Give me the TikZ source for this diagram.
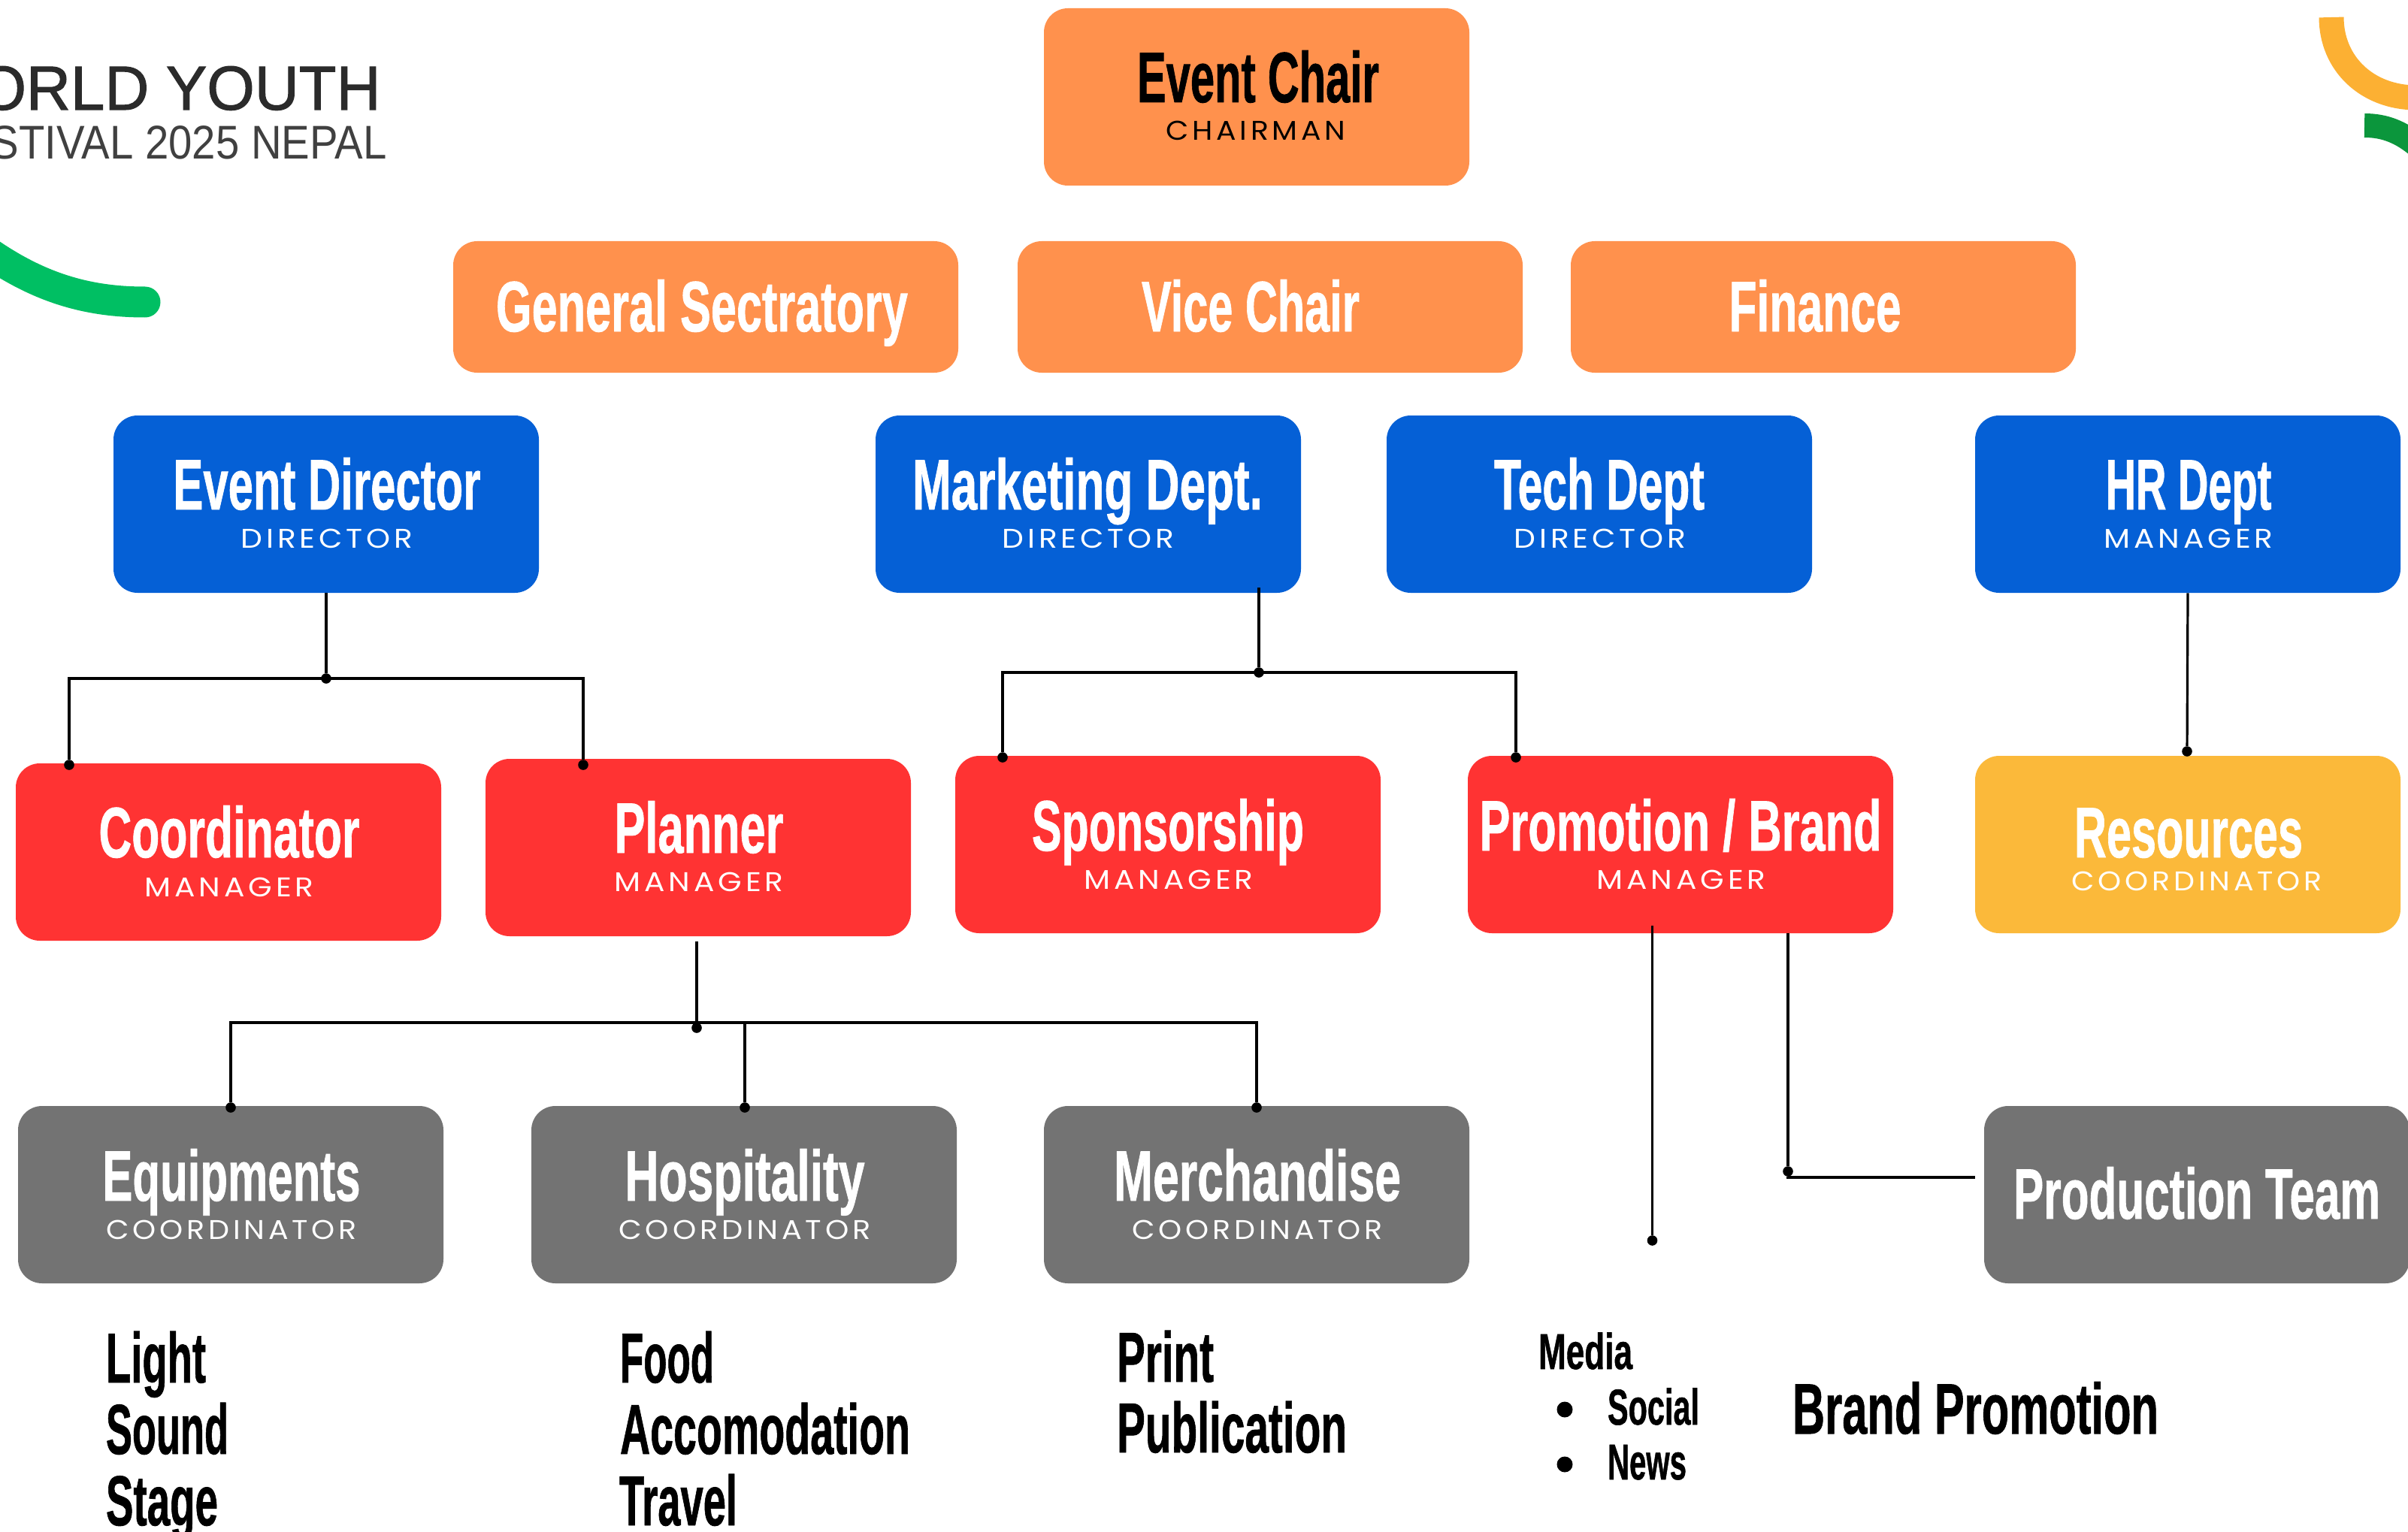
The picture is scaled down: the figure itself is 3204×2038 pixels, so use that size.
\documentclass[tikz,border=0pt]{standalone}
\usepackage{fontspec}
\usepackage{graphicx}
\setmainfont{Liberation Sans}
\newfontfamily\titlef[UprightFont=* Bold,FakeBold=1]{Liberation Sans}
\newfontfamily\logof[FakeBold=1.3]{Liberation Sans}
\newfontfamily\subf[LetterSpace=12]{Poppins}
\definecolor{cOrange}{HTML}{FF914D}
\definecolor{cBlue}{HTML}{0560D6}
\definecolor{cRed}{HTML}{FF3333}
\definecolor{cGrey}{HTML}{737373}
\definecolor{cYellow}{HTML}{FBB93A}
\definecolor{cGreenA}{HTML}{00BF63}
\definecolor{cGreenB}{HTML}{0B963C}
\definecolor{cArc}{HTML}{FCB033}
\definecolor{cLogo}{HTML}{2B2B2B}
\tikzset{
  orgbox/.style={rectangle,rounded corners=16pt,inner sep=0pt,minimum width=283pt,minimum height=118pt},
  widebox/.style={orgbox,minimum width=336pt,minimum height=87.5pt},
  txt/.style={inner sep=0pt,outer sep=0pt,anchor=base},
  txtl/.style={inner sep=0pt,outer sep=0pt,anchor=base west},
  dotn/.style={circle,fill=black,inner sep=0pt,minimum size=6.8pt},
  conn/.style={draw=black,line width=1.6pt},
}
\newcommand{\fitw}[2]{\resizebox{\dimexpr #1pt/2\relax}{\height}{#2}}
\newcommand{\ttl}[1]{\titlef\fontsize{47.5}{52}\selectfont #1}
\newcommand{\lst}[1]{\titlef\fontsize{47}{52}\selectfont #1}
\newcommand{\sml}[1]{\titlef\fontsize{33.5}{38}\selectfont #1}
\newcommand{\sbt}[1]{\subf\fontsize{18}{20}\selectfont #1}
\begin{document}
\begin{tikzpicture}[x=0.5pt,y=-0.5pt]
\useasboundingbox (0,0) rectangle (3204,2038);
\clip (0,0) rectangle (3204,2038);
\fill[white] (0,0) rectangle (3204,2038);
% decorative arcs
\draw[cGreenA,line width=20.5pt,line cap=round] (-40,318) .. controls (40,380) and (110,402) .. (193,402);
\draw[cArc,line width=16.5pt] (3102,23) .. controls (3102,85) and (3150,130) .. (3215,130);
\draw[cGreenB,line width=16pt] (3146,167) .. controls (3172,167) and (3195,175) .. (3220,197);
% logo
\node[inner sep=0pt,anchor=base east,text=cLogo] (logoa) at (507,146) {\logof\fontsize{41.5}{46}\selectfont\fitw{535}{ORLD YOUTH}};
\node[inner sep=0pt,anchor=base east,text=cLogo!90] (logob) at (515,212) {\fontsize{31.5}{36}\selectfont\fitw{527}{STIVAL 2025 NEPAL}};
% boxes
\node[orgbox,fill=cOrange] (chair) at (1672,129) {};
\node[widebox,fill=cOrange] (gensec) at (939,408.5) {};
\node[widebox,fill=cOrange] (vice) at (1690,408.5) {};
\node[widebox,fill=cOrange] (fin) at (2426,408.5) {};
\node[orgbox,fill=cBlue] (ed) at (434,671) {};
\node[orgbox,fill=cBlue] (mkt) at (1448,671) {};
\node[orgbox,fill=cBlue] (tech) at (2128,671) {};
\node[orgbox,fill=cBlue] (hr) at (2911,671) {};
\node[orgbox,fill=cRed] (coord) at (304,1134) {};
\node[orgbox,fill=cRed] (plan) at (929,1128) {};
\node[orgbox,fill=cRed] (spon) at (1554,1124) {};
\node[orgbox,fill=cRed] (promo) at (2236,1124) {};
\node[orgbox,fill=cYellow] (res) at (2911,1124) {};
\node[orgbox,fill=cGrey] (equip) at (307,1590) {};
\node[orgbox,fill=cGrey] (hosp) at (990,1590) {};
\node[orgbox,fill=cGrey] (merch) at (1672,1590) {};
\node[orgbox,fill=cGrey] (prod) at (2923,1590) {};
% box titles
\node[txt,text=black] (t1) at (1674,136) {\ttl{\fitw{322}{Event Chair}}};
\node[txt,text=black] (s1) at (1671,187) {\sbt{\fitw{239}{CHAIRMAN}}};
\node[txt,text=white] (t2) at (934,441) {\ttl{\fitw{548}{General Sectratory}}};
\node[txt,text=white] (t3) at (1664,441) {\ttl{\fitw{290}{Vice Chair}}};
\node[txt,text=white] (t4) at (2415,441) {\ttl{\fitw{229}{Finance}}};
\node[txt,text=white] (t5) at (435,678) {\ttl{\fitw{409}{Event Director}}};
\node[txt,text=white] (s5) at (435,729) {\sbt{\fitw{229}{DIRECTOR}}};
\node[txt,text=white] (t6) at (1447,678) {\ttl{\fitw{466}{Marketing Dept.}}};
\node[txt,text=white] (s6) at (1448,729) {\sbt{\fitw{229}{DIRECTOR}}};
\node[txt,text=white] (t7) at (2128,678) {\ttl{\fitw{280}{Tech Dept}}};
\node[txt,text=white] (s7) at (2129,729) {\sbt{\fitw{229}{DIRECTOR}}};
\node[txt,text=white] (t8) at (2912,678) {\ttl{\fitw{221}{HR Dept}}};
\node[txt,text=white] (s8) at (2912,729) {\sbt{\fitw{225}{MANAGER}}};
\node[txt,text=white] (t9) at (305,1141) {\ttl{\fitw{347}{Coordinator}}};
\node[txt,text=white] (s9) at (305,1193) {\sbt{\fitw{225}{MANAGER}}};
\node[txt,text=white] (t10) at (930,1135) {\ttl{\fitw{225}{Planner}}};
\node[txt,text=white] (s10) at (930,1186) {\sbt{\fitw{225}{MANAGER}}};
\node[txt,text=white] (t11) at (1554,1132) {\ttl{\fitw{362}{Sponsorship}}};
\node[txt,text=white] (s11) at (1555,1183) {\sbt{\fitw{225}{MANAGER}}};
\node[txt,text=white] (t12) at (2236,1132) {\ttl{\fitw{535}{Promotion / Brand}}};
\node[txt,text=white] (s12) at (2237,1183) {\sbt{\fitw{225}{MANAGER}}};
\node[txt,text=white] (t13) at (2912,1141) {\ttl{\fitw{304}{Resources}}};
\node[txt,text=white] (s13) at (2923,1185) {\sbt{\fitw{333}{COORDINATOR}}};
\node[txt,text=white] (t14) at (308,1598) {\ttl{\fitw{343}{Equipments}}};
\node[txt,text=white] (s14) at (308,1649) {\sbt{\fitw{333}{COORDINATOR}}};
\node[txt,text=white] (t15) at (991,1598) {\ttl{\fitw{319}{Hospitality}}};
\node[txt,text=white] (s15) at (991,1649) {\sbt{\fitw{335}{COORDINATOR}}};
\node[txt,text=white] (t16) at (1673,1598) {\ttl{\fitw{382}{Merchandise}}};
\node[txt,text=white] (s16) at (1673,1649) {\sbt{\fitw{333}{COORDINATOR}}};
\node[txt,text=white] (t17) at (2923,1622) {\ttl{\fitw{488}{Production Team}}};
% lists
\node[txtl] (l1) at (141,1840) {\lst{\fitw{133}{Light}}};
\node[txtl] (l2) at (141,1935) {\lst{\fitw{163}{Sound}}};
\node[txtl] (l3) at (141,2030) {\lst{\fitw{149}{Stage}}};
\node[txtl] (l4) at (825,1840) {\lst{\fitw{125}{Food}}};
\node[txtl] (l5) at (825,1935) {\lst{\fitw{386}{Accomodation}}};
\node[txtl] (l6) at (824,2030) {\lst{\fitw{157}{Travel}}};
\node[txtl] (l7) at (1486,1839) {\lst{\fitw{129}{Print}}};
\node[txtl] (l8) at (1486,1933) {\lst{\fitw{306}{Publication}}};
\node[txtl] (l9) at (2047,1822) {\sml{\fitw{125}{Media}}};
\node[txtl] (l10) at (2139,1896) {\sml{\fitw{122}{Social}}};
\node[txtl] (l11) at (2139,1969) {\sml{\fitw{105}{News}}};
\node[circle,fill=black,inner sep=0pt,minimum size=10.5pt] (b1) at (2082,1876) {};
\node[circle,fill=black,inner sep=0pt,minimum size=10.5pt] (b2) at (2082,1949) {};
\node[txtl] (l12) at (2385,1908) {\ttl{\fitw{487}{Brand Promotion}}};
% junction dots and free ends
\node[dotn] (j1) at (434,903) {};
\coordinate (h1) at (434,903);
\node[dotn] (d1) at (92,1018) {};
\node[dotn] (d2) at (776,1018) {};
\coordinate (m0) at (1675,782);
\node[dotn] (j2) at (1675,895) {};
\coordinate (h2) at (1675,895);
\node[dotn] (d3) at (1334,1008) {};
\node[dotn] (d4) at (2017,1008) {};
\node[dotn] (d5) at (2910,1000) {};
\coordinate (p0) at (927,1253);
\node[dotn] (j3) at (927,1368) {};
\coordinate (h3) at (927,1361);
\node[dotn] (e1) at (307,1474) {};
\node[dotn] (e2) at (991,1474) {};
\node[dotn] (e3) at (1672,1474) {};
\coordinate (q0) at (2198.5,1232);
\node[dotn] (e4) at (2198.5,1651) {};
\coordinate (q1) at (2379,1242);
\node[dotn] (e5) at (2379,1559) {};
\coordinate (q2) at (2628,1567);
% connectors
\draw[conn] (ed.south) -- (j1);
\draw[conn] (h1) -| (d1);
\draw[conn] (h1) -| (d2);
\draw[conn] (m0) -- (j2);
\draw[conn] (h2) -| (d3);
\draw[conn] (h2) -| (d4);
\draw[conn] (hr.south) -- (d5);
\draw[conn] (p0) -- (j3);
\draw[conn] (h3) -| (e1);
\draw[conn] (h3) -| (e2);
\draw[conn] (h3) -| (e3);
\draw[conn] (q0) -- (e4);
\draw[conn] (q1) -- (e5);
\draw[conn] (e5) |- (q2);
\end{tikzpicture}
\end{document}
